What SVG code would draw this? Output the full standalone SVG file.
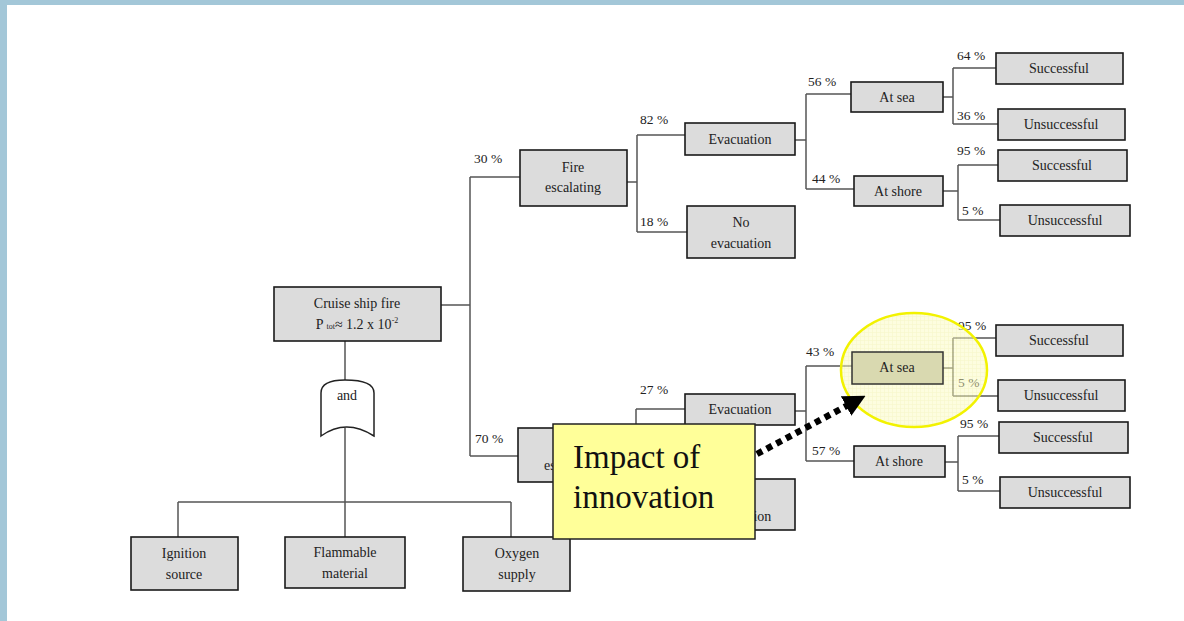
<svg xmlns="http://www.w3.org/2000/svg" width="1184" height="621" viewBox="0 0 1184 621">
<defs>
<style>
.box{fill:#dcdcdc;stroke:#1a1a1a;stroke-width:1.6}
.t{font-family:"Liberation Serif","DejaVu Serif",serif;font-size:14px;fill:#222;text-anchor:middle}
.p{font-family:"Liberation Serif","DejaVu Serif",serif;font-size:13.5px;fill:#222}
.ln{fill:none;stroke:#555;stroke-width:1.5}
.big{font-family:"Liberation Serif","DejaVu Serif",serif;font-size:33px;fill:#111}
</style>
<pattern id="hatch" width="4" height="4" patternUnits="userSpaceOnUse">
<rect width="4" height="4" fill="#fbfbc0"/>
<path d="M0 0H4M0 0V4" stroke="#eeee90" stroke-width="1"/>
</pattern>
<marker id="ah" viewBox="0 0 10 10" refX="2" refY="5" markerWidth="3.4" markerHeight="3.4" orient="auto">
<path d="M0 0L10 5L0 10z" fill="#000"/>
</marker>
</defs>
<rect width="1184" height="621" fill="#fff"/>
<rect x="0" y="0" width="1184" height="5" fill="#a3c7d8"/>
<rect x="0" y="0" width="7" height="621" fill="#a3c7d8"/>

<g id="connectors">
<path class="ln" d="M441 305H470M470 177V456M470 177H520M470 456H518"/>
<path class="ln" d="M627 182H637M637 135V232M637 135H685M637 232H687"/>
<path class="ln" d="M795 140H806M806 94V189M806 94H851M806 189H854"/>
<path class="ln" d="M943 97H953M953 68V124M953 68H996M953 124H998"/>
<path class="ln" d="M943 191H958M958 165V220M958 165H998M958 220H1000"/>
<path class="ln" d="M627 456H636M636 409V505M636 409H685M636 505H687"/>
<path class="ln" d="M795 411H806M806 366V461M806 366H852M806 461H854"/>
<path class="ln" d="M943 368H953M953 338V396M953 338H996M953 396H998"/>
<path class="ln" d="M945 462H958M958 436V491M958 436H999M958 491H1000"/>
<path class="ln" d="M345 341V380M345 428V537M178 502H511M178 502V537M511 502V537"/>
</g>

<g id="labels">
<text class="p" x="474" y="163">30 %</text>
<text class="p" x="475" y="443">70 %</text>
<text class="p" x="640" y="124">82 %</text>
<text class="p" x="640" y="226">18 %</text>
<text class="p" x="808" y="86">56 %</text>
<text class="p" x="812" y="183">44 %</text>
<text class="p" x="957" y="60">64 %</text>
<text class="p" x="957" y="120">36 %</text>
<text class="p" x="957" y="155">95 %</text>
<text class="p" x="962" y="215">5 %</text>
<text class="p" x="640" y="394">27 %</text>
<text class="p" x="806" y="356">43 %</text>
<text class="p" x="812" y="455">57 %</text>
<text class="p" x="958" y="330">95 %</text>
<text class="p" x="958" y="387">5 %</text>
<text class="p" x="960" y="428">95 %</text>
<text class="p" x="962" y="484">5 %</text>
</g>

<g id="n-root"><rect class="box" x="274" y="287" width="167" height="54"/>
<text class="t" x="357" y="308">Cruise ship fire</text>
<text class="t" x="357" y="329">P <tspan font-size="8">tot</tspan>≈ 1.2 x 10<tspan font-size="8" dy="-6">-2</tspan></text></g>

<g id="n-and"><path d="M345 380Q321 380 321 393V436Q346 418 374 436V393Q374 380 345 380Z" fill="#fff" stroke="#222" stroke-width="1.5"/>
<text class="t" x="347" y="400" font-size="12">and</text></g>

<g id="n-fire1"><rect class="box" x="520" y="150" width="107" height="56"/>
<text class="t" x="573" y="172">Fire</text><text class="t" x="573" y="192">escalating</text></g>
<g id="n-evac1"><rect class="box" x="685" y="123" width="110" height="32"/>
<text class="t" x="740" y="144">Evacuation</text></g>
<g id="n-noevac1"><rect class="box" x="687" y="206" width="108" height="52"/>
<text class="t" x="741" y="227">No</text><text class="t" x="741" y="248">evacuation</text></g>
<g id="n-sea1"><rect class="box" x="851" y="82" width="92" height="30"/>
<text class="t" x="897" y="102">At sea</text></g>
<g id="n-shore1"><rect class="box" x="854" y="176" width="89" height="30"/>
<text class="t" x="898" y="196">At shore</text></g>
<g id="n-s1"><rect class="box" x="996" y="53" width="127" height="31"/><text class="t" x="1059" y="73">Successful</text></g>
<g id="n-u1"><rect class="box" x="998" y="109" width="127" height="31"/><text class="t" x="1061" y="129">Unsuccessful</text></g>
<g id="n-s2"><rect class="box" x="998" y="150" width="129" height="31"/><text class="t" x="1062" y="170">Successful</text></g>
<g id="n-u2"><rect class="box" x="1000" y="205" width="130" height="31"/><text class="t" x="1065" y="225">Unsuccessful</text></g>

<g id="n-fire2"><rect class="box" x="518" y="428" width="109" height="54"/>
<text class="t" x="572" y="450">Fire</text><text class="t" x="572" y="470">escalating</text></g>
<g id="n-evac2"><rect class="box" x="685" y="394" width="110" height="31"/>
<text class="t" x="740" y="414">Evacuation</text></g>
<g id="n-noevac2"><rect class="box" x="687" y="479" width="108" height="51"/>
<text class="t" x="741" y="500">No</text><text class="t" x="741" y="521">evacuation</text></g>

<g id="highlight"><ellipse cx="914" cy="370" rx="73" ry="57" fill="url(#hatch)" fill-opacity="0.5" stroke="#f2f200" stroke-width="2.5"/></g>

<g id="n-sea2"><rect x="852" y="352" width="91" height="32" fill="#d9d9b0" stroke="#333" stroke-width="1.5"/>
<text class="t" x="897" y="372" fill="#444">At sea</text></g>
<g id="n-shore2"><rect class="box" x="854" y="446" width="91" height="31"/>
<text class="t" x="899" y="466">At shore</text></g>
<g id="n-s3"><rect class="box" x="996" y="325" width="127" height="31"/><text class="t" x="1059" y="345">Successful</text></g>
<g id="n-u3"><rect class="box" x="998" y="380" width="127" height="31"/><text class="t" x="1061" y="400">Unsuccessful</text></g>
<g id="n-s4"><rect class="box" x="999" y="422" width="129" height="31"/><text class="t" x="1063" y="442">Successful</text></g>
<g id="n-u4"><rect class="box" x="1000" y="477" width="130" height="31"/><text class="t" x="1065" y="497">Unsuccessful</text></g>

<g id="n-ign"><rect class="box" x="131" y="537" width="107" height="53"/>
<text class="t" x="184" y="558">Ignition</text><text class="t" x="184" y="579">source</text></g>
<g id="n-flam"><rect class="box" x="285" y="537" width="120" height="51"/>
<text class="t" x="345" y="557">Flammable</text><text class="t" x="345" y="578">material</text></g>
<g id="n-oxy"><rect class="box" x="463" y="537" width="107" height="54"/>
<text class="t" x="517" y="558">Oxygen</text><text class="t" x="517" y="579">supply</text></g>

<g id="callout"><rect x="553" y="424" width="202" height="115" fill="#ffff99" stroke="#222" stroke-width="1.5"/>
<text class="big" x="573" y="468">Impact of</text>
<text class="big" x="573" y="508">innovation</text></g>

<g id="arrow"><path d="M757 454L850 404" fill="none" stroke="#000" stroke-width="6.5" stroke-dasharray="6 5" marker-end="url(#ah)"/></g>
</svg>
